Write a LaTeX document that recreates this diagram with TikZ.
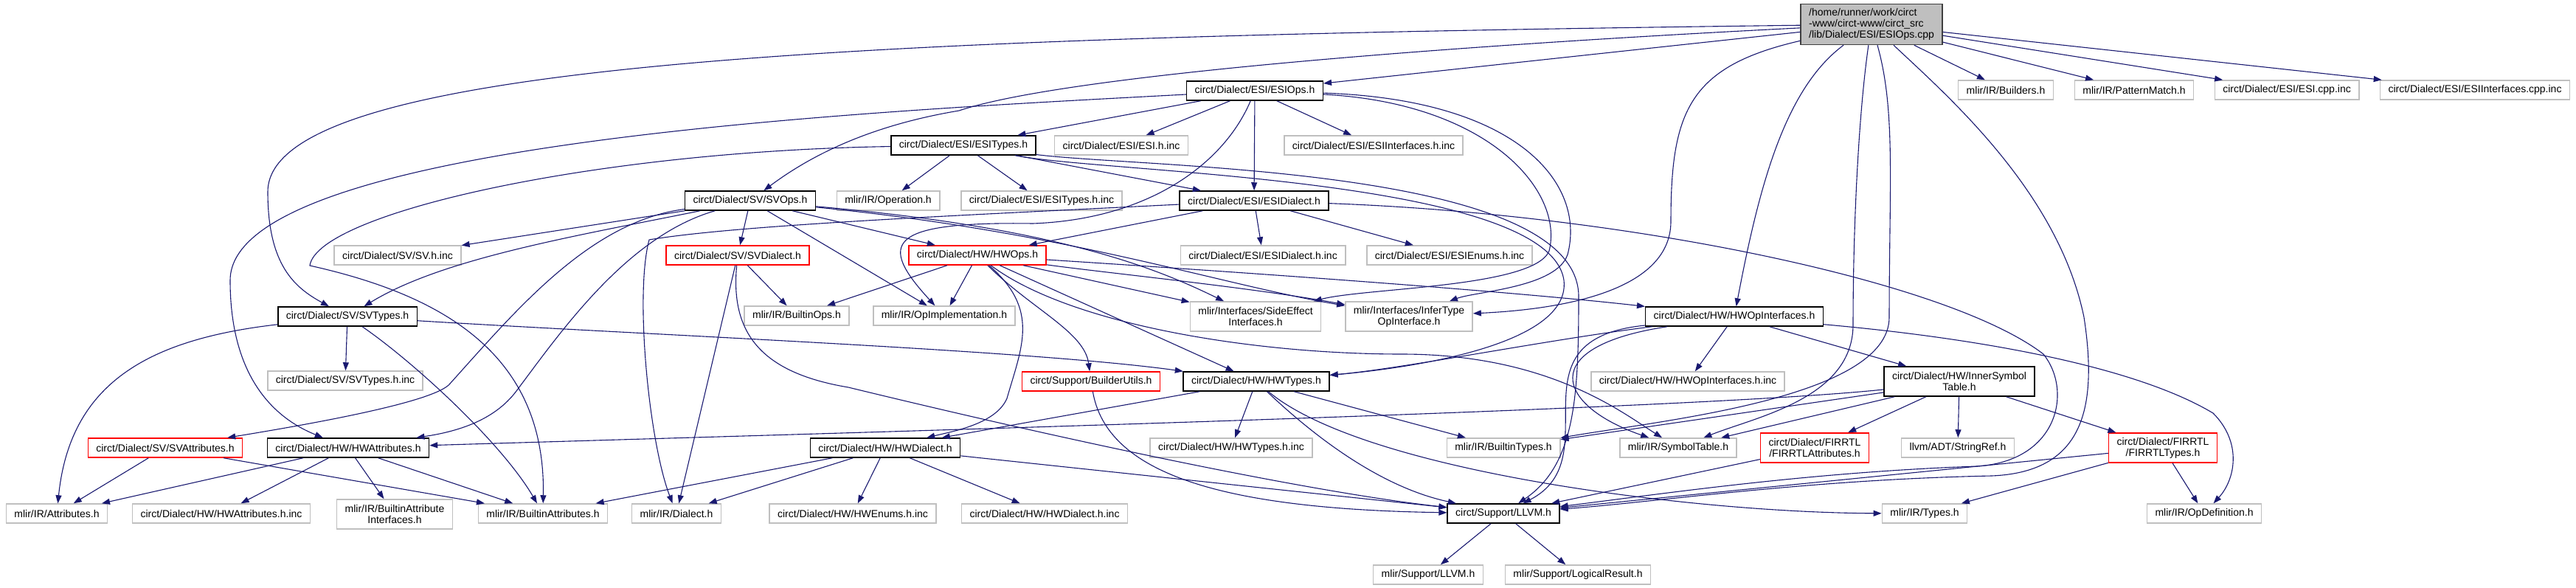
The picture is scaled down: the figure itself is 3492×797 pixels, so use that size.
\documentclass[tikz,border=0pt]{standalone}
\usepackage{fontspec}
\setmainfont{Liberation Sans}
\usepackage{xcolor}
\usepackage{tikz}
\usetikzlibrary{arrows.meta}
\definecolor{depblue}{RGB}{25,25,112}
\definecolor{extgray}{RGB}{191,191,191}
\definecolor{truncred}{RGB}{255,0,0}
\tikzset{
  file/.style={rectangle, draw, line width=1.5pt, fill=white, align=center,
               font=\fontsize{14}{15}\selectfont, inner xsep=11pt, inner ysep=3pt,
               minimum height=26pt},
  docfile/.style={file, draw=black},
  extfile/.style={file, draw=extgray},
  truncfile/.style={file, draw=truncred},
  twoline/.style={minimum height=40pt},
  rootfile/.style={file, draw=black!75, fill=extgray, align=left, minimum height=55pt},
  dep/.style={-{Triangle[length=11pt,width=8pt]}, line width=1.1pt, depblue},
}

\begin{document}
\begin{tikzpicture}[x=1pt, y=-1pt]
  \useasboundingbox (0,0) rectangle (3492,797);
  % files
  \node[rootfile] (root) at (2537,33) {/home/runner/work/circt\\-www/circt-www/circt\_src\\/lib/Dialect/ESI/ESIOps.cpp};
  \node[docfile] (esiops) at (1701,123) {circt/Dialect/ESI/ESIOps.h};
  \node[extfile] (builders) at (2719,122) {mlir/IR/Builders.h};
  \node[extfile] (patternmatch) at (2893,122) {mlir/IR/PatternMatch.h};
  \node[extfile] (esicppinc) at (3100,122) {circt/Dialect/ESI/ESI.cpp.inc};
  \node[extfile] (esiintcppinc) at (3355,122) {circt/Dialect/ESI/ESIInterfaces.cpp.inc};
  \node[docfile] (esitypes) at (1306,197) {circt/Dialect/ESI/ESITypes.h};
  \node[extfile] (esihinc) at (1520,197) {circt/Dialect/ESI/ESI.h.inc};
  \node[extfile] (esiinthinc) at (1862,197) {circt/Dialect/ESI/ESIInterfaces.h.inc};
  \node[docfile] (svops) at (1017,272) {circt/Dialect/SV/SVOps.h};
  \node[extfile] (operation) at (1204,272) {mlir/IR/Operation.h};
  \node[extfile] (esitypeshinc) at (1412,272) {circt/Dialect/ESI/ESITypes.h.inc};
  \node[docfile] (esidialect) at (1700,272) {circt/Dialect/ESI/ESIDialect.h};
  \node[extfile] (svhinc) at (539,346) {circt/Dialect/SV/SV.h.inc};
  \node[truncfile] (svdialect) at (1000,346) {circt/Dialect/SV/SVDialect.h};
  \node[truncfile] (hwops) at (1325,346) {circt/Dialect/HW/HWOps.h};
  \node[extfile] (esidialecthinc) at (1712,346) {circt/Dialect/ESI/ESIDialect.h.inc};
  \node[extfile] (esienumshinc) at (1965,346) {circt/Dialect/ESI/ESIEnums.h.inc};
  \node[docfile] (svtypes) at (471,429) {circt/Dialect/SV/SVTypes.h};
  \node[extfile] (builtinops) at (1080,428) {mlir/IR/BuiltinOps.h};
  \node[extfile] (opimpl) at (1280,428) {mlir/IR/OpImplementation.h};
  \node[extfile, twoline] (sideeffect) at (1702,429) {mlir/Interfaces/SideEffect\\Interfaces.h};
  \node[extfile, twoline] (infertype) at (1910,429) {mlir/Interfaces/InferType\\OpInterface.h};
  \node[docfile] (hwopinterfaces) at (2351,429) {circt/Dialect/HW/HWOpInterfaces.h};
  \node[extfile] (svtypeshinc) at (468,516) {circt/Dialect/SV/SVTypes.h.inc};
  \node[truncfile] (builderutils) at (1479,517) {circt/Support/BuilderUtils.h};
  \node[docfile] (hwtypes) at (1703,517) {circt/Dialect/HW/HWTypes.h};
  \node[extfile] (hwopinterfaceshinc) at (2288,517) {circt/Dialect/HW/HWOpInterfaces.h.inc};
  \node[docfile, twoline] (innersymtable) at (2656,517) {circt/Dialect/HW/InnerSymbol\\Table.h};
  \node[truncfile] (svattributes) at (224,607) {circt/Dialect/SV/SVAttributes.h};
  \node[docfile] (hwattributes) at (472,607) {circt/Dialect/HW/HWAttributes.h};
  \node[docfile] (hwdialect) at (1200,607) {circt/Dialect/HW/HWDialect.h};
  \node[extfile] (hwtypeshinc) at (1669,607) {circt/Dialect/HW/HWTypes.h.inc};
  \node[extfile] (builtintypes) at (2038,607) {mlir/IR/BuiltinTypes.h};
  \node[extfile] (symboltable) at (2275,607) {mlir/IR/SymbolTable.h};
  \node[truncfile, twoline] (firrtlattributes) at (2460,607) {circt/Dialect/FIRRTL\\/FIRRTLAttributes.h};
  \node[extfile] (stringref) at (2654,607) {llvm/ADT/StringRef.h};
  \node[truncfile, twoline] (firrtltypes) at (2932,607) {circt/Dialect/FIRRTL\\/FIRRTLTypes.h};
  \node[extfile] (attributes) at (77,696) {mlir/IR/Attributes.h};
  \node[extfile] (hwattributeshinc) at (300,696) {circt/Dialect/HW/HWAttributes.h.inc};
  \node[extfile, twoline] (builtinattrifaces) at (535,697) {mlir/IR/BuiltinAttribute\\Interfaces.h};
  \node[extfile] (builtinattributes) at (736,696) {mlir/IR/BuiltinAttributes.h};
  \node[extfile] (dialect) at (917,696) {mlir/IR/Dialect.h};
  \node[extfile] (hwenumshinc) at (1156,696) {circt/Dialect/HW/HWEnums.h.inc};
  \node[extfile] (hwdialecthinc) at (1416,696) {circt/Dialect/HW/HWDialect.h.inc};
  \node[docfile] (llvmh) at (2038,696) {circt/Support/LLVM.h};
  \node[extfile] (types) at (2609,696) {mlir/IR/Types.h};
  \node[extfile] (opdefinition) at (2988,696) {mlir/IR/OpDefinition.h};
  \node[extfile] (mlirllvm) at (1936,779) {mlir/Support/LLVM.h};
  \node[extfile] (logicalresult) at (2139,779) {mlir/Support/LogicalResult.h};

  % includes of the source file
  \draw[dep] (root) -- (esiops);
  \draw[dep] (root) -- (builders);
  \draw[dep] (root) -- (patternmatch);
  \draw[dep] (root) -- (esicppinc);
  \draw[dep] (root) -- (esiintcppinc);
  \draw[dep] (root) .. controls (2000,60) and (1450,100) .. (1300,150) .. controls (1180,170) and (1100,210) .. (svops);
  \draw[dep] (root) .. controls (1200,50) and (363,80) .. (363,260) .. controls (363,360) and (400,390) .. (svtypes);
  \draw[dep] (root) .. controls (2290,90) and (2265,150) .. (2265,300) .. controls (2265,400) and (2100,420) .. (infertype);
  \draw[dep] (root) .. controls (2420,120) and (2385,250) .. (hwopinterfaces);
  \draw[dep] (root) .. controls (2520,150) and (2512,300) .. (2512,440) .. controls (2512,540) and (2380,565) .. (symboltable);
  \draw[dep] (root) .. controls (2570,150) and (2561,250) .. (2561,430) .. controls (2561,540) and (2250,570) .. (builtintypes);
  \draw[dep] (root) .. controls (2640,130) and (2790,260) .. (2825,430) .. controls (2845,560) and (2820,640) .. (2700,645) .. controls (2450,650) and (2250,680) .. (llvmh);

  % ESI headers
  \draw[dep] (esiops) -- (esitypes);
  \draw[dep] (esiops) -- (esihinc);
  \draw[dep] (esiops) -- (esidialect);
  \draw[dep] (esiops) -- (esiinthinc);
  \draw[dep] (esiops) .. controls (1200,150) and (312,190) .. (312,380) .. controls (312,520) and (380,570) .. (hwattributes);
  \draw[dep] (esiops) .. controls (1660,220) and (1560,297) .. (1400,303) .. controls (1200,300) and (1190,330) .. (opimpl);
  \draw[dep] (esiops) .. controls (2020,140) and (2120,260) .. (2100,340) .. controls (2080,390) and (1850,390) .. (sideeffect);
  \draw[dep] (esiops) .. controls (2060,135) and (2150,250) .. (2125,345) .. controls (2110,390) and (2000,395) .. (infertype);
  \draw[dep] (esitypes) -- (operation);
  \draw[dep] (esitypes) -- (esitypeshinc);
  \draw[dep] (esitypes) -- (esidialect);
  \draw[dep] (esitypes) .. controls (800,205) and (430,290) .. (420,360) .. controls (600,400) and (740,480) .. (builtinattributes);
  \draw[dep] (esitypes) .. controls (1500,235) and (2100,240) .. (2120,380) .. controls (2130,470) and (1900,500) .. (hwtypes);
  \draw[dep] (esitypes) .. controls (1550,228) and (2135,225) .. (2140,400) .. controls (2140,540) and (2135,630) .. (llvmh);
  \draw[dep] (esidialect) -- (hwops);
  \draw[dep] (esidialect) -- (esidialecthinc);
  \draw[dep] (esidialect) -- (esienumshinc);
  \draw[dep] (esidialect) .. controls (1300,292) and (1000,305) .. (880,325) .. controls (860,400) and (880,600) .. (dialect);
  \draw[dep] (esidialect) .. controls (2200,290) and (2640,380) .. (2770,480) .. controls (2810,530) and (2790,625) .. (2680,632) .. controls (2450,640) and (2250,670) .. (llvmh);

  % SV headers
  \draw[dep] (svops) -- (svhinc);
  \draw[dep] (svops) -- (svdialect);
  \draw[dep] (svops) -- (hwops);
  \draw[dep] (svops) -- (opimpl);
  \draw[dep] (svops) .. controls (780,320) and (600,350) .. (svtypes);
  \draw[dep] (svops) .. controls (800,300) and (700,420) .. (610,520) .. controls (590,545) and (420,575) .. (svattributes);
  \draw[dep] (svops) .. controls (850,320) and (760,450) .. (700,530) .. controls (670,570) and (620,585) .. (hwattributes);
  \draw[dep] (svops) .. controls (1450,310) and (1580,370) .. (sideeffect);
  \draw[dep] (svops) .. controls (1450,315) and (1650,385) .. (infertype);
  \draw[dep] (svdialect) -- (builtinops);
  \draw[dep] (svdialect) -- (dialect);
  \draw[dep] (svdialect) .. controls (990,450) and (1030,505) .. (1150,525) .. controls (1500,610) and (1800,670) .. (llvmh);
  \draw[dep] (svtypes) -- (svtypeshinc);
  \draw[dep] (svtypes) .. controls (200,460) and (95,520) .. (attributes);
  \draw[dep] (svtypes) .. controls (560,490) and (680,600) .. (builtinattributes);
  \draw[dep] (svtypes) .. controls (900,455) and (1400,475) .. (hwtypes);
  \draw[dep] (svattributes) -- (attributes);
  \draw[dep] (svattributes) -- (builtinattributes);

  % HW headers
  \draw[dep] (hwops) -- (builtinops);
  \draw[dep] (hwops) -- (opimpl);
  \draw[dep] (hwops) -- (sideeffect);
  \draw[dep] (hwops) -- (hwtypes);
  \draw[dep] (hwops) .. controls (1400,420) and (1470,450) .. (builderutils);
  \draw[dep] (hwops) .. controls (1410,420) and (1385,470) .. (1365,540) .. controls (1350,575) and (1290,585) .. (hwdialect);
  \draw[dep] (hwops) .. controls (1500,370) and (1700,390) .. (infertype);
  \draw[dep] (hwops) .. controls (1700,370) and (2050,395) .. (hwopinterfaces);
  \draw[dep] (hwops) .. controls (1450,440) and (1700,480) .. (1900,480) .. controls (2100,480) and (2200,560) .. (symboltable);
  \draw[dep] (hwopinterfaces) -- (hwopinterfaceshinc);
  \draw[dep] (hwopinterfaces) -- (innersymtable);
  \draw[dep] (hwopinterfaces) .. controls (2100,460) and (1900,500) .. (hwtypes);
  \draw[dep] (hwopinterfaces) .. controls (2080,470) and (2110,550) .. (symboltable);
  \draw[dep] (hwopinterfaces) .. controls (2040,460) and (2185,620) .. (llvmh);
  \draw[dep] (hwopinterfaces) .. controls (2700,460) and (2900,500) .. (3000,560) .. controls (3040,600) and (3030,650) .. (opdefinition);
  \draw[dep] (builderutils) .. controls (1500,640) and (1650,690) .. (llvmh);
  \draw[dep] (hwtypes) -- (hwdialect);
  \draw[dep] (hwtypes) -- (hwtypeshinc);
  \draw[dep] (hwtypes) -- (builtintypes);
  \draw[dep] (hwtypes) .. controls (1780,590) and (1870,660) .. (llvmh);
  \draw[dep] (hwtypes) .. controls (1850,640) and (2300,695) .. (types);
  \draw[dep] (innersymtable) .. controls (2300,555) and (1200,585) .. (hwattributes);
  \draw[dep] (innersymtable) -- (builtintypes);
  \draw[dep] (innersymtable) -- (symboltable);
  \draw[dep] (innersymtable) -- (firrtlattributes);
  \draw[dep] (innersymtable) -- (stringref);
  \draw[dep] (innersymtable) -- (firrtltypes);
  \draw[dep] (hwattributes) -- (attributes);
  \draw[dep] (hwattributes) -- (hwattributeshinc);
  \draw[dep] (hwattributes) -- (builtinattrifaces);
  \draw[dep] (hwattributes) -- (builtinattributes);
  \draw[dep] (hwdialect) -- (builtinattributes);
  \draw[dep] (hwdialect) -- (dialect);
  \draw[dep] (hwdialect) -- (hwenumshinc);
  \draw[dep] (hwdialect) -- (hwdialecthinc);
  \draw[dep] (hwdialect) -- (llvmh);

  % FIRRTL and support
  \draw[dep] (firrtlattributes) -- (llvmh);
  \draw[dep] (firrtltypes) -- (llvmh);
  \draw[dep] (firrtltypes) -- (types);
  \draw[dep] (firrtltypes) -- (opdefinition);
  \draw[dep] (llvmh) -- (mlirllvm);
  \draw[dep] (llvmh) -- (logicalresult);
\end{tikzpicture}
\end{document}
